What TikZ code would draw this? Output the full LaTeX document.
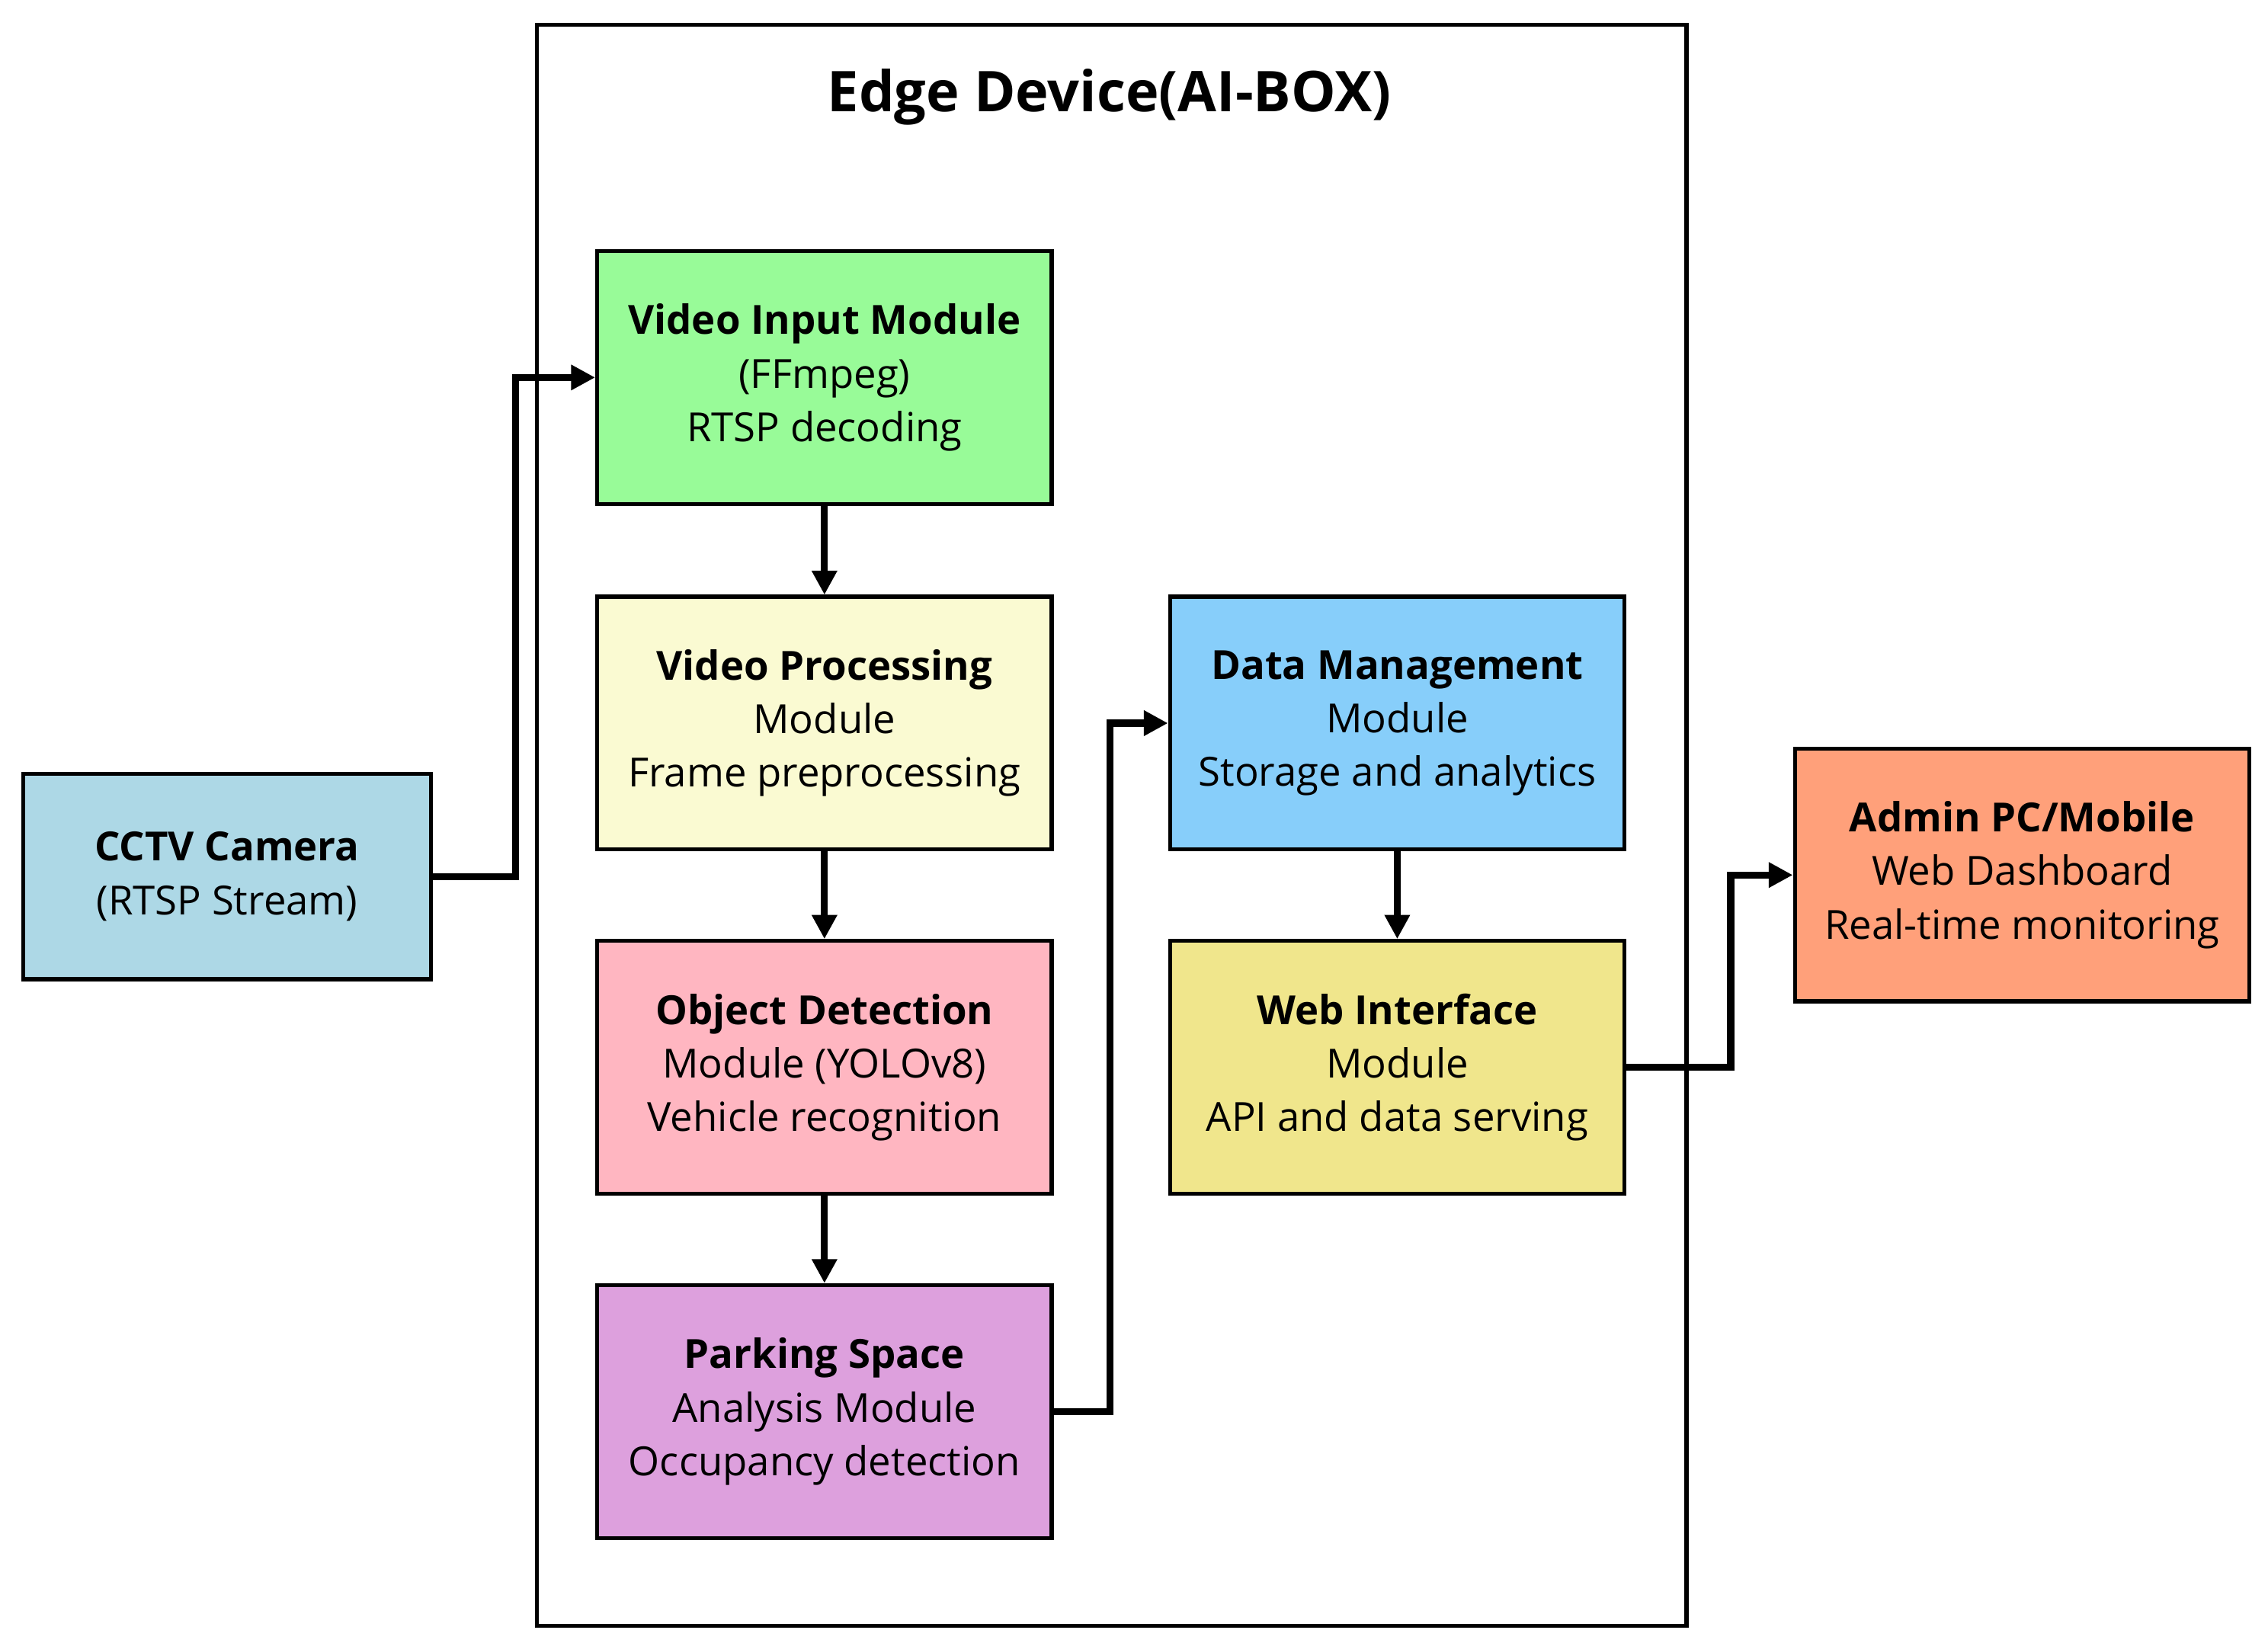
\documentclass[tikz,border=0pt]{standalone}
\usepackage{fontspec}
\setmainfont{Open Sans}
\usetikzlibrary{arrows.meta, positioning}

\definecolor{inputgreen}{HTML}{98FB98}
\definecolor{procyellow}{HTML}{FAFAD2}
\definecolor{detpink}{HTML}{FFB6C1}
\definecolor{parkplum}{HTML}{DDA0DD}
\definecolor{datablue}{HTML}{87CEFA}
\definecolor{webkhaki}{HTML}{F0E68C}
\definecolor{camblue}{HTML}{ADD8E6}
\definecolor{adminsalmon}{HTML}{FFA07A}

\begin{document}
\begin{tikzpicture}[
    x=0.019cm, y=-0.019cm,
    every node/.style={align=center},
    module/.style={rectangle, minimum width=5.97cm, minimum height=3.32cm, draw=black, line width=1.5pt, font=\fontsize{15}{20}\selectfont, inner sep=1pt},
    device/.style={module, minimum width=5.36cm, minimum height=2.7cm},
    arrow/.style={line width=2.6pt, -{Triangle[length=9pt, width=9pt]}}
]
\useasboundingbox (0,0) rectangle (1568,1138);

% Edge device frame
\draw[line width=1.5pt] (371,17) rectangle (1166,1124);
\node (title) at (767,67) {\fontsize{21}{25}\selectfont\bfseries Edge Device(AI-BOX)};

% Pipeline modules
\node (input) [module, fill=inputgreen] at (570,261) {\textbf{Video Input Module}\\(FFmpeg)\\RTSP decoding};
\node (proc) [module, fill=procyellow] at (570,500) {\textbf{Video Processing}\\Module\\Frame preprocessing};
\node (detect) [module, fill=detpink] at (570,738) {\textbf{Object Detection}\\Module (YOLOv8)\\Vehicle recognition};
\node (park) [module, fill=parkplum] at (570,976) {\textbf{Parking Space}\\Analysis Module\\Occupancy detection};
\node (data) [module, fill=datablue] at (966,500) {\textbf{Data Management}\\Module\\Storage and analytics};
\node (web) [module, fill=webkhaki] at (966,738) {\textbf{Web Interface}\\Module\\API and data serving};

% External devices
\node (cctv) [device, fill=camblue] at (157,606) {\textbf{CCTV Camera}\\(RTSP Stream)};
\node (admin) [module, fill=adminsalmon] at (1398,605) {\textbf{Admin PC/Mobile}\\Web Dashboard\\Real-time monitoring};

% Arrows
\draw [arrow] (cctv.east) -- ++(57,0) |- (input.west);
\draw [arrow] (input) -- (proc);
\draw [arrow] (proc) -- (detect);
\draw [arrow] (detect) -- (park);
\draw [arrow] (park.east) -- ++(39,0) |- (data.west);
\draw [arrow] (data) -- (web);
\draw [arrow] (web.east) -- ++(72,0) |- (admin.west);

\end{tikzpicture}
\end{document}
